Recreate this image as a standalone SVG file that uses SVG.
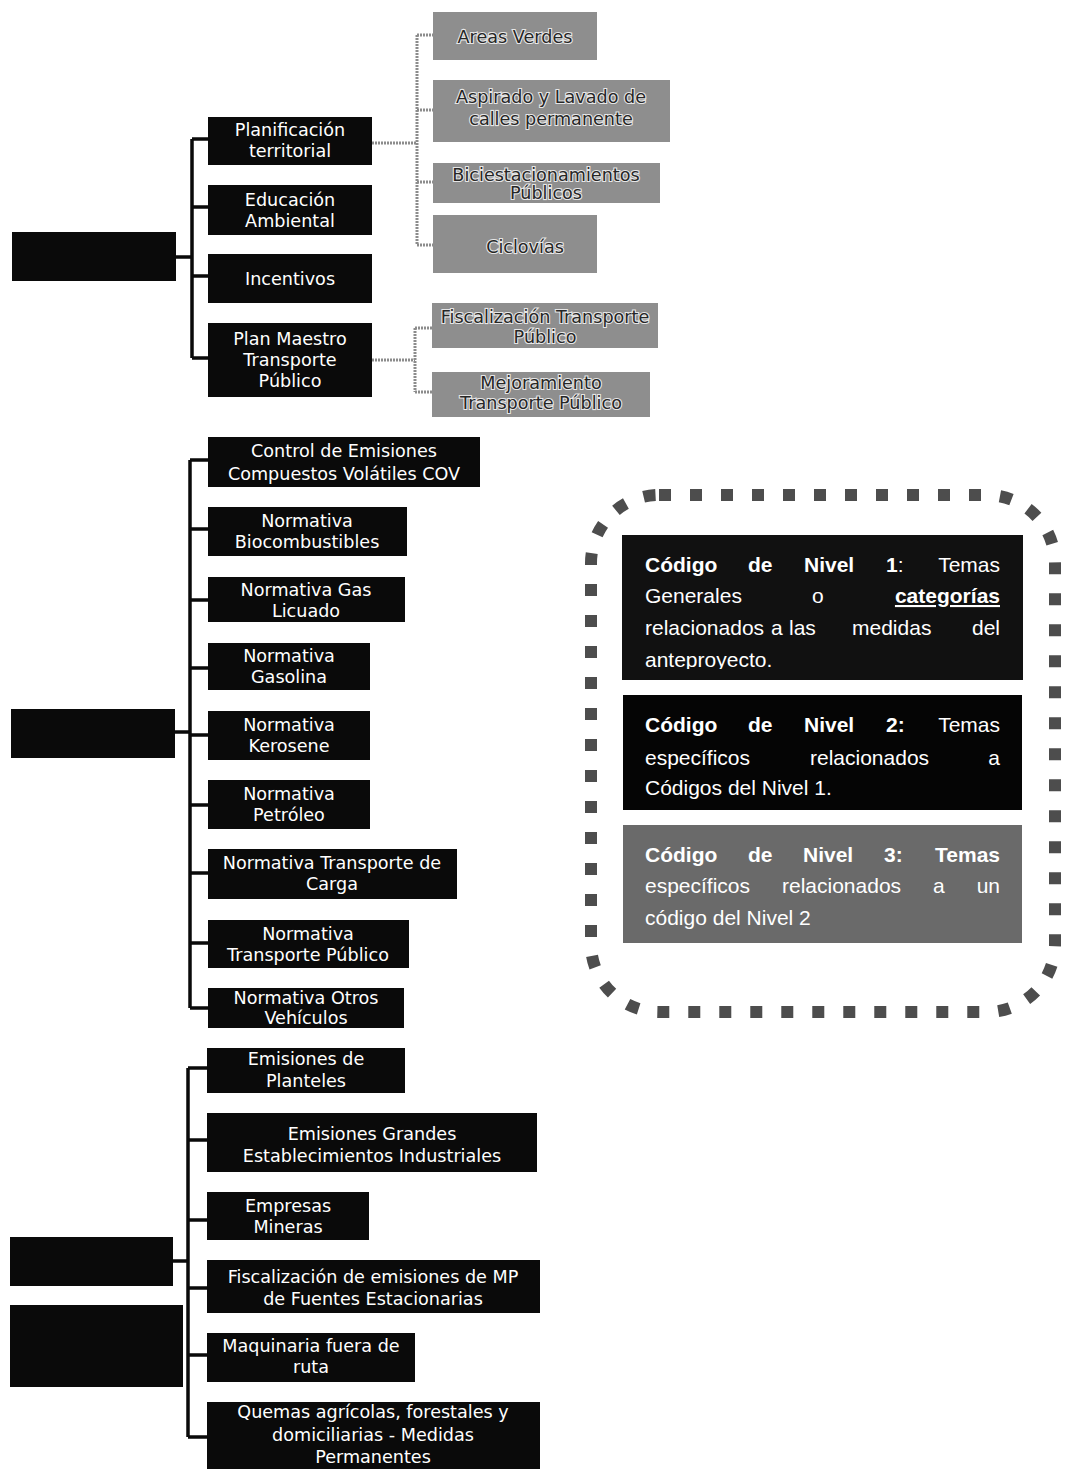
<svg xmlns="http://www.w3.org/2000/svg" width="1069" height="1469" viewBox="0 0 1069 1469">
<defs>
<style>
.n{fill:#0a0a0a}
.g{fill:#8e8e8e}
.t{font-family:"DejaVu Sans",Verdana,sans-serif;font-size:17.6px;fill:#fff;text-anchor:middle}
.gt{font-family:"DejaVu Sans",Verdana,sans-serif;font-size:17.6px;fill:#262626;text-anchor:middle;stroke:#e6e6e6;stroke-width:2.2px;paint-order:stroke}
.c{fill:none;stroke:#0a0a0a;stroke-width:3.5}
.cg{fill:none;stroke:#8c8c8c;stroke-width:3;stroke-dasharray:2 1}
.l{font-family:"Liberation Sans",Arial,sans-serif;font-size:21px;fill:#fff}
.b{font-weight:bold}
.e{text-anchor:end}
</style>
<clipPath id="clip1"><rect x="622" y="535" width="401" height="134"/></clipPath>
</defs>
<rect width="1069" height="1469" fill="#fff"/>

<g id="connectors">
<path class="c" d="M176 257H192M192 139V358M192 139H208M192 207H208M192 276H208M192 358H208"/>
<path class="c" d="M175 732H190M190 460V1008M190 460H208M190 529H208M190 600H208M190 668H208M190 735H208M190 805H208M190 873H208M190 943H208M190 1008H208"/>
<path class="c" d="M173 1261H188M188 1068V1437M188 1068H207M188 1140H207M188 1220H207M188 1288H207M188 1355H207M188 1437H207"/>
<path class="cg" d="M372 143H417M417 35V245M417 35H433M417 110H433M417 182H433M417 245H433"/>
<path class="cg" d="M372 360H415M415 328V392M415 328H432M415 392H432"/>
</g>

<g id="l1a"><rect class="n" x="12" y="232" width="164" height="49"/></g>
<g id="l1b"><rect class="n" x="11" y="709" width="164" height="49"/></g>
<g id="l1c"><rect class="n" x="10" y="1237" width="163" height="49"/></g>
<g id="l1d"><rect class="n" x="10" y="1305" width="173" height="82"/></g>

<g id="planificacion"><rect class="n" x="208" y="117" width="164" height="48"/><text class="t" x="290" y="136">Planificación</text><text class="t" x="290" y="157">territorial</text></g>
<g id="educacion"><rect class="n" x="208" y="185" width="164" height="50"/><text class="t" x="290" y="206">Educación</text><text class="t" x="290" y="227">Ambiental</text></g>
<g id="incentivos"><rect class="n" x="208" y="254" width="164" height="49"/><text class="t" x="290" y="285">Incentivos</text></g>
<g id="planmaestro"><rect class="n" x="208" y="323" width="164" height="74"/><text class="t" x="290" y="345">Plan Maestro</text><text class="t" x="290" y="366">Transporte</text><text class="t" x="290" y="387">Público</text></g>

<g id="areas"><rect class="g" x="433" y="12" width="164" height="48"/><text class="gt" x="515" y="43">Areas Verdes</text></g>
<g id="aspirado"><rect class="g" x="433" y="80" width="237" height="62"/><text class="gt" x="551" y="103">Aspirado y Lavado de</text><text class="gt" x="551" y="125">calles permanente</text></g>
<g id="bicies"><rect class="g" x="433" y="163" width="227" height="40"/><text class="gt" x="546" y="181">Biciestacionamientos</text><text class="gt" x="546" y="199">Públicos</text></g>
<g id="ciclovias"><rect class="g" x="433" y="215" width="164" height="58"/><text class="gt" x="525" y="253">Ciclovías</text></g>
<g id="fiscalizaciontp"><rect class="g" x="432" y="303" width="226" height="45"/><text class="gt" x="545" y="323">Fiscalización Transporte</text><text class="gt" x="545" y="343">Público</text></g>
<g id="mejoramiento"><rect class="g" x="432" y="372" width="218" height="45"/><text class="gt" x="541" y="389">Mejoramiento</text><text class="gt" x="541" y="409">Transporte Público</text></g>

<g id="control"><rect class="n" x="208" y="437" width="272" height="50"/><text class="t" x="344" y="457">Control de Emisiones</text><text class="t" x="344" y="480">Compuestos Volátiles COV</text></g>
<g id="biocomb"><rect class="n" x="208" y="507" width="199" height="49"/><text class="t" x="307" y="527">Normativa</text><text class="t" x="307" y="548">Biocombustibles</text></g>
<g id="gas"><rect class="n" x="208" y="577" width="197" height="45"/><text class="t" x="306" y="596">Normativa Gas</text><text class="t" x="306" y="617">Licuado</text></g>
<g id="gasolina"><rect class="n" x="208" y="643" width="162" height="47"/><text class="t" x="289" y="662">Normativa</text><text class="t" x="289" y="683">Gasolina</text></g>
<g id="kerosene"><rect class="n" x="208" y="711" width="162" height="49"/><text class="t" x="289" y="731">Normativa</text><text class="t" x="289" y="752">Kerosene</text></g>
<g id="petroleo"><rect class="n" x="208" y="780" width="162" height="49"/><text class="t" x="289" y="800">Normativa</text><text class="t" x="289" y="821">Petróleo</text></g>
<g id="carga"><rect class="n" x="208" y="849" width="249" height="50"/><text class="t" x="332" y="869">Normativa Transporte de</text><text class="t" x="332" y="890">Carga</text></g>
<g id="tpublico"><rect class="n" x="208" y="920" width="201" height="48"/><text class="t" x="308" y="940">Normativa</text><text class="t" x="308" y="961">Transporte Público</text></g>
<g id="otros"><rect class="n" x="208" y="988" width="196" height="40"/><text class="t" x="306" y="1004">Normativa Otros</text><text class="t" x="306" y="1024">Vehículos</text></g>

<g id="planteles"><rect class="n" x="207" y="1048" width="198" height="45"/><text class="t" x="306" y="1065">Emisiones de</text><text class="t" x="306" y="1087">Planteles</text></g>
<g id="grandes"><rect class="n" x="207" y="1113" width="330" height="59"/><text class="t" x="372" y="1140">Emisiones Grandes</text><text class="t" x="372" y="1162">Establecimientos Industriales</text></g>
<g id="mineras"><rect class="n" x="207" y="1192" width="162" height="48"/><text class="t" x="288" y="1212">Empresas</text><text class="t" x="288" y="1233">Mineras</text></g>
<g id="fiscmp"><rect class="n" x="207" y="1260" width="333" height="53"/><text class="t" x="373" y="1283">Fiscalización de emisiones de MP</text><text class="t" x="373" y="1305">de Fuentes Estacionarias</text></g>
<g id="maquinaria"><rect class="n" x="207" y="1333" width="208" height="49"/><text class="t" x="311" y="1352">Maquinaria fuera de</text><text class="t" x="311" y="1373">ruta</text></g>
<g id="quemas"><rect class="n" x="207" y="1402" width="333" height="67"/><text class="t" x="373" y="1418">Quemas agrícolas, forestales y</text><text class="t" x="373" y="1441">domiciliarias - Medidas</text><text class="t" x="373" y="1463">Permanentes</text></g>

<g id="legend">
<rect x="591" y="495" width="464" height="517" rx="68" fill="none" stroke="#4d4d4d" stroke-width="12" stroke-dasharray="12 19"/>
<g id="leg1">
<rect x="622" y="535" width="401" height="145" fill="#111"/>
<g clip-path="url(#clip1)">
<text class="l b" x="645" y="572">Código</text><text class="l b" x="748" y="572">de</text><text class="l b" x="804" y="572">Nivel</text><text class="l" x="886" y="572"><tspan class="b">1</tspan>:</text><text class="l e" x="1000" y="572">Temas</text>
<text class="l" x="645" y="603">Generales</text><text class="l" x="812" y="603">o</text><text class="l b e" x="1000" y="603" text-decoration="underline">categorías</text>
<text class="l" x="645" y="635">relacionados</text><text class="l" x="771" y="635">a</text><text class="l" x="789" y="635">las</text><text class="l" x="852" y="635">medidas</text><text class="l e" x="1000" y="635">del</text>
<text class="l" x="645" y="667">anteproyecto.</text>
</g>
</g>
<g id="leg2">
<rect x="623" y="695" width="399" height="115" fill="#050505"/>
<text class="l b" x="645" y="732">Código</text><text class="l b" x="748" y="732">de</text><text class="l b" x="804" y="732">Nivel</text><text class="l b" x="886" y="732">2:</text><text class="l e" x="1000" y="732">Temas</text>
<text class="l" x="645" y="765">específicos</text><text class="l" x="810" y="765">relacionados</text><text class="l e" x="1000" y="765">a</text>
<text class="l" x="645" y="795">Códigos del Nivel 1.</text>
</g>
<g id="leg3">
<rect x="623" y="825" width="399" height="118" fill="#6a6a6a"/>
<text class="l b" x="645" y="862">Código</text><text class="l b" x="748" y="862">de</text><text class="l b" x="803" y="862">Nivel</text><text class="l b" x="884" y="862">3:</text><text class="l b e" x="1000" y="862">Temas</text>
<text class="l" x="645" y="893">específicos</text><text class="l" x="782" y="893">relacionados</text><text class="l" x="933" y="893">a</text><text class="l e" x="1000" y="893">un</text>
<text class="l" x="645" y="925">código del Nivel 2</text>
</g>
</g>
</svg>
